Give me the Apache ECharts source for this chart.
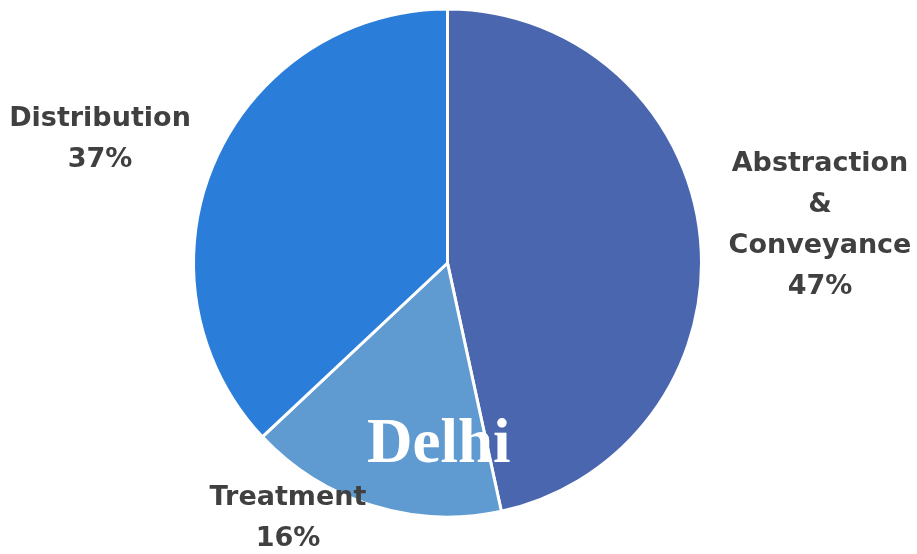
<!DOCTYPE html>
<html>
<head>
<meta charset="utf-8">
<script src="https://cdn.jsdelivr.net/npm/echarts@6/dist/echarts.min.js"></script>
<style>
  html, body { margin: 0; padding: 0; background: #fff; }
  #chart { width: 917px; height: 554px; }
</style>
</head>
<body>
<div id="chart"></div>
<script>
var categories = ['Abstraction\n&\nConveyance', 'Treatment', 'Distribution'];
// slice sizes; the labels show them rounded
var shares = [46.6, 16.4, 37.0];
var colors = ['#4a66ae', '#5f9bd1', '#2a7dd8'];

// where each label sits (centre of the text block)
var labelSpots = [
  {x: 820, y: 225},
  {x: 288, y: 518},
  {x: 100, y: 139}
];

var chart = echarts.init(document.getElementById('chart'));

var pieData = [];
for (var i = 0; i < categories.length; i++) {
  pieData.push({name: categories[i], value: shares[i], itemStyle: {color: colors[i]}});
}

var option = {
  animation: false,
  series: [
    {
      type: 'pie',
      center: [447.5, 263],
      radius: 254,
      startAngle: 90,
      clockwise: true,
      data: pieData,
      itemStyle: {borderColor: '#fff', borderWidth: 3},
      label: {
        show: true,
        position: 'outside',
        formatter: function(p) { return p.name + '\n' + Math.round(p.percent) + '%'; },
        color: '#404040',
        fontFamily: 'DejaVu Sans',
        fontWeight: 'bold',
        fontSize: 27,
        lineHeight: 41,
        align: 'center',
        overflow: 'none',
        width: 300
      },
      labelLine: {show: false},
      labelLayout: function(params) {
        var s = labelSpots[params.dataIndex];
        return {x: s.x, y: s.y, align: 'center', verticalAlign: 'middle'};
      },
      emphasis: {disabled: true}
    }
  ],
  graphic: [
    {
      type: 'text',
      left: 367,
      top: 414,
      z: 100,
      style: {
        text: 'Delhi',
        fill: '#fff',
        font: 'bold 63px "Liberation Serif"'
      }
    }
  ]
};
chart.setOption(option);
</script>
</body>
</html>
